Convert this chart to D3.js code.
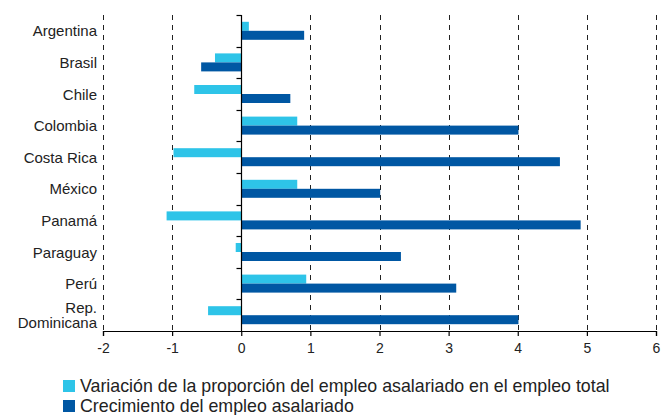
<!DOCTYPE html>
<html>
<head>
<meta charset="utf-8">
<script src="https://cdn.jsdelivr.net/npm/d3@7"></script>
<style>
  html, body { margin: 0; padding: 0; background: #fff; }
  svg { display: block; font-family: "Liberation Sans", Arial, sans-serif; }
</style>
</head>
<body>
<svg id="chart" width="662" height="415"></svg>
<script>
const categories = ["Argentina", "Brasil", "Chile", "Colombia", "Costa Rica", "México", "Panamá", "Paraguay", "Perú", "Rep.\nDominicana"];
const proporcion = [0.11, -0.38, -0.68, 0.81, -0.98, 0.81, -1.08, -0.08, 0.94, -0.48];
const crecimiento = [0.91, -0.58, 0.71, 4.01, 4.61, 2.01, 4.91, 2.31, 3.11, 4.01];
const xTicks = [-2, -1, 0, 1, 2, 3, 4, 5, 6];
const seriesNames = ["Variación de la proporción del empleo asalariado en el empleo total", "Crecimiento del empleo asalariado"];
const seriesColors = ["#2EC4E8", "#0057A3"];

const svg = d3.select("#chart");
const x = d3.scaleLinear().domain([-2, 6]).range([103, 656]);
const y = d3.scaleBand().domain(categories).range([15, 331]).paddingInner(0).paddingOuter(0);
const groupH = 18;
const sub = d3.scaleBand().domain([0, 1]).range([0, groupH]);

// gridlines
svg.append("g").selectAll("line").data(xTicks.filter(d => d !== 0)).join("line")
  .attr("x1", d => Math.round(x(d)) + 0.5).attr("x2", d => Math.round(x(d)) + 0.5)
  .attr("y1", 15).attr("y2", 331)
  .attr("stroke", "#222").attr("stroke-width", 1).attr("stroke-dasharray", "5,5");

// bars
const series = [proporcion, crecimiento];
series.forEach((vals, si) => {
  svg.append("g").selectAll("rect").data(vals).join("rect")
    .attr("x", d => x(Math.min(0, d)))
    .attr("width", d => Math.abs(x(d) - x(0)))
    .attr("y", (d, i) => y(categories[i]) + (y.bandwidth() - groupH) / 2 + sub(si))
    .attr("height", sub.bandwidth())
    .attr("fill", seriesColors[si]);
});

// zero axis with category ticks
const zx = Math.round(x(0)) + 0.5;
svg.append("line").attr("x1", zx).attr("x2", zx).attr("y1", 15).attr("y2", 331)
  .attr("stroke", "#000").attr("stroke-width", 1.2);
svg.append("g").selectAll("line").data(categories).join("line")
  .attr("x1", zx - 5).attr("x2", zx)
  .attr("y1", d => Math.round(y(d)) + 0.5).attr("y2", d => Math.round(y(d)) + 0.5)
  .attr("stroke", "#000").attr("stroke-width", 1.2);

// x axis
const xAxis = svg.append("g").attr("transform", "translate(0,331)")
  .call(d3.axisBottom(x).tickValues(xTicks).tickSize(5).tickPadding(7).tickFormat(d => String(d)));
xAxis.select(".domain").attr("stroke", "#000").attr("stroke-width", 1.2);
xAxis.selectAll(".tick line").attr("stroke", "#000").attr("stroke-width", 1.2);
xAxis.selectAll("text").attr("font-size", 14).attr("fill", "#222")
  .attr("font-family", "'Liberation Sans', Arial, sans-serif");

// category labels
const labels = svg.append("g").selectAll("text").data(categories).join("text")
  .attr("text-anchor", "end").attr("font-size", 15).attr("fill", "#222")
  .attr("x", 97);
labels.each(function(d) {
  const lines = d.split("\n");
  const cy = y(d) + y.bandwidth() / 2;
  const t = d3.select(this);
  lines.forEach((ln, k) => {
    t.append("tspan").attr("x", 97)
      .attr("y", cy + 5.5 + (k - (lines.length - 1) / 2) * 15)
      .text(ln);
  });
});

// legend
const leg = svg.append("g");
seriesNames.forEach((name, i) => {
  const cy = 386 + i * 20;
  leg.append("rect").attr("x", 63).attr("y", cy - 6).attr("width", 12).attr("height", 12).attr("fill", seriesColors[i]);
  leg.append("text").attr("x", 80).attr("y", cy + 6)
    .attr("font-size", 17.8).attr("fill", "#222").text(name);
});
</script>
</body>
</html>
